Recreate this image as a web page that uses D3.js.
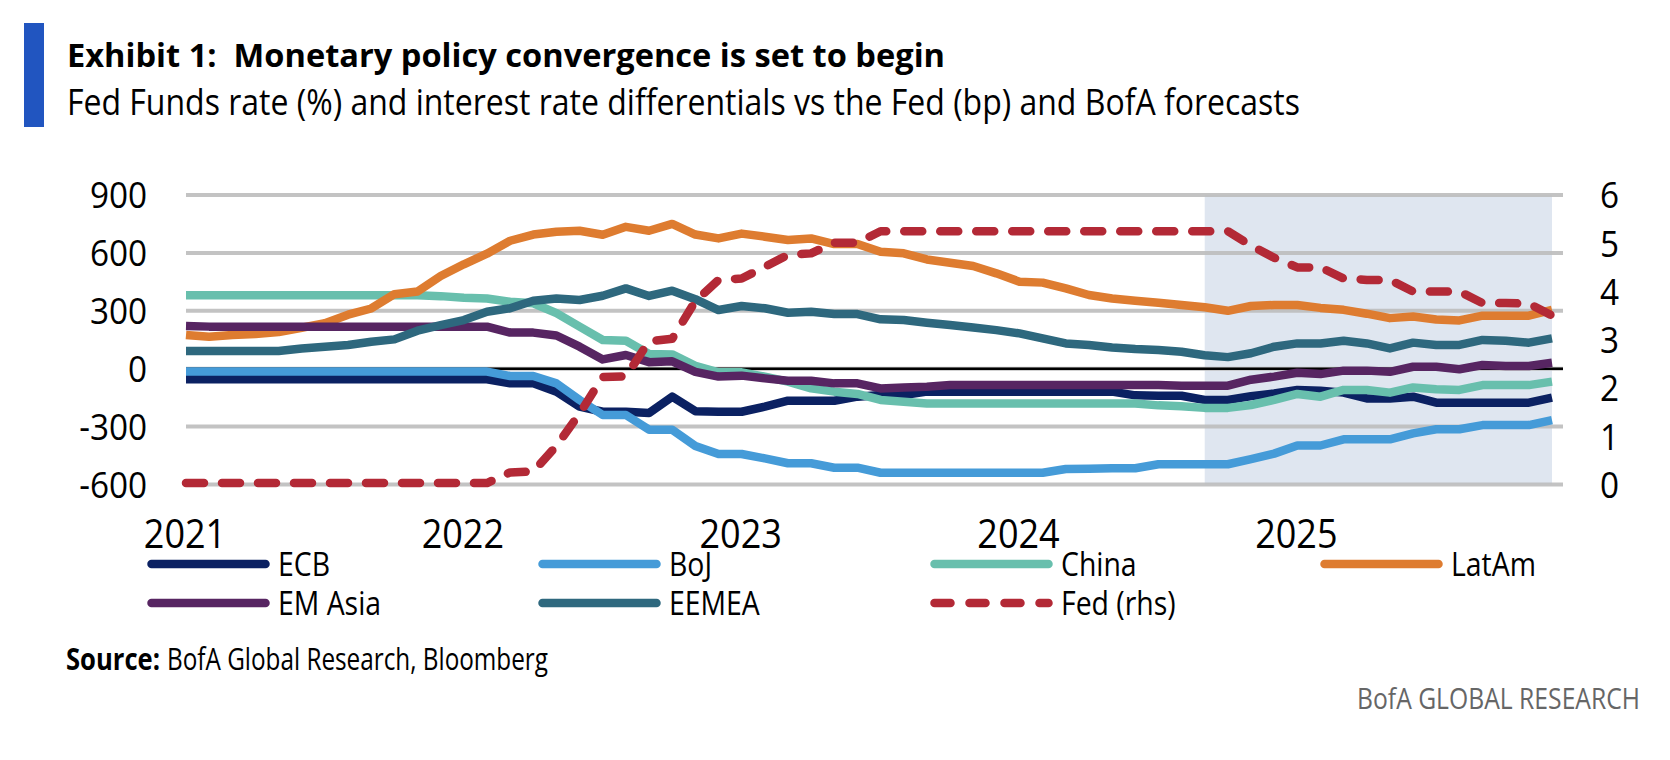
<!DOCTYPE html>
<html>
<head>
<meta charset="utf-8">
<script src="https://cdn.jsdelivr.net/npm/d3@7"></script>
<style>
  body { margin: 0; background: #fff; }
  text { font-family: "Open Sans", sans-serif; white-space: pre; }
</style>
</head>
<body>
<svg id="chart" width="1670" height="760"></svg>
<script>
// monthly, Jan 2021 .. Dec 2025 (index 0..59)
const yearLabels = ["2021", "2022", "2023", "2024", "2025"];
const yearIndex = [0, 12, 24, 36, 48];
const forecastStart = 44; // Sep 2024

const ecb = [-55, -55, -55, -55, -55, -55, -55, -55, -55, -55, -55, -55, -55, -55,
  -76, -76, -119, -197, -223, -223, -230, -145, -220, -223, -223, -197, -166, -166, -166, -145,
  -136, -136, -119, -119, -119, -119, -119, -119, -119, -119, -119, -138, -140, -140, -162,
  -162, -142, -128, -110, -114, -124, -154, -154, -145, -176, -176, -176, -176, -176, -150];
const boj = [-15, -15, -15, -15, -15, -15, -15, -15, -15, -15, -15, -15, -15, -15,
  -38, -38, -76, -162, -240, -240, -316, -316, -400, -442, -442, -465, -490, -490, -513, -513,
  -539, -539, -539, -539, -539, -539, -539, -539, -520, -518, -516, -516, -495, -495, -495,
  -495, -468, -440, -398, -398, -366, -366, -366, -335, -314, -314, -292, -292, -292, -266];
const china = [380, 380, 380, 380, 380, 380, 380, 380, 380, 380, 380, 376, 368, 364,
  347, 339, 288, 218, 149, 145, 76, 74, 15, -19, -19, -41, -67, -102, -119, -131,
  -162, -171, -180, -180, -180, -180, -180, -180, -180, -180, -180, -180, -190, -195, -203,
  -203, -188, -162, -131, -145, -110, -110, -124, -97, -107, -110, -85, -85, -85, -67];
const latam = [175, 165, 175, 180, 190, 212, 236, 280, 312, 386, 400, 480, 541, 596,
  663, 695, 710, 715, 694, 735, 715, 750, 695, 675, 700, 684, 667, 675, 646, 646,
  606, 598, 566, 549, 532, 494, 451, 446, 416, 382, 364, 352, 342, 330, 318,
  300, 325, 330, 330, 315, 305, 285, 262, 270, 255, 250, 275, 275, 275, 305];
const emAsia = [221, 218, 218, 218, 218, 218, 218, 218, 218, 218, 218, 218, 218, 218,
  187, 187, 172, 114, 48, 71, 34, 38, -16, -41, -36, -50, -62, -62, -76, -76,
  -102, -98, -93, -85, -85, -85, -85, -85, -85, -85, -85, -85, -85, -88, -88,
  -88, -57, -41, -21, -28, -10, -10, -16, 10, 10, -3, 19, 14, 14, 31];
const eemea = [92, 92, 92, 92, 92, 105, 114, 123, 140, 152, 197, 226, 252, 295,
  313, 352, 364, 356, 378, 416, 377, 404, 360, 304, 325, 313, 290, 295, 283, 283,
  256, 252, 238, 226, 214, 200, 183, 157, 131, 123, 110, 102, 97, 88, 70,
  60, 80, 114, 131, 131, 145, 131, 105, 135, 123, 123, 149, 145, 135, 157];
const fed = [0.03, 0.03, 0.03, 0.03, 0.03, 0.03, 0.03, 0.03, 0.03, 0.03, 0.03, 0.03, 0.03, 0.03,
  0.25, 0.27, 0.8, 1.47, 2.23, 2.24, 2.97, 3.02, 3.8, 4.24, 4.27, 4.51, 4.76, 4.79, 5.01, 5.01,
  5.25, 5.25, 5.25, 5.25, 5.25, 5.25, 5.25, 5.25, 5.25, 5.25, 5.25, 5.25, 5.25, 5.25, 5.25,
  5.25, 4.95, 4.7, 4.5, 4.5, 4.27, 4.24, 4.24, 4.0, 4.0, 4.0, 3.76, 3.76, 3.75, 3.5];

const leftTicks = [-600, -300, 0, 300, 600, 900];
const rightTicks = [0, 1, 2, 3, 4, 5, 6];

const series = [
  { name: "ECB", values: ecb, color: "#0b2162" },
  { name: "BoJ", values: boj, color: "#459bd8" },
  { name: "China", values: china, color: "#68bfad" },
  { name: "LatAm", values: latam, color: "#de7c30" },
  { name: "EM Asia", values: emAsia, color: "#572562" },
  { name: "EEMEA", values: eemea, color: "#2e687e" },
  { name: "Fed (rhs)", values: fed, color: "#b32936", dashed: true, rhs: true }
];

const svg = d3.select("#chart");
const plot = { left: 186, right: 1563, top: 195, bottom: 484.5 };

const x = d3.scaleLinear().domain([0, 59]).range([plot.left, 1552]);
const y = d3.scaleLinear().domain([-600, 900]).range([plot.bottom, plot.top]);
const y2 = d3.scaleLinear().domain([0, 6]).range([plot.bottom, plot.top]);

// squeeze text horizontally to mimic the condensed house font
function condense(sel, k) {
  sel.each(function () {
    const n = this.getComputedTextLength();
    d3.select(this).attr("textLength", n * k).attr("lengthAdjust", "spacingAndGlyphs");
  });
}
function fitWidth(sel, w) {
  sel.attr("textLength", w).attr("lengthAdjust", "spacingAndGlyphs");
}

// header
svg.append("rect").attr("x", 24).attr("y", 23).attr("width", 20).attr("height", 104).attr("fill", "#2155c0");
svg.append("text").attr("x", 67).attr("y", 67).attr("font-size", 32).attr("font-weight", 700)
  .text("Exhibit 1:  Monetary policy convergence is set to begin").call(fitWidth, 878);
svg.append("text").attr("x", 67).attr("y", 115).attr("font-size", 36)
  .text("Fed Funds rate (%) and interest rate differentials vs the Fed (bp) and BofA forecasts").call(fitWidth, 1233);

// forecast shading
svg.append("rect")
  .attr("x", x(forecastStart)).attr("y", plot.top)
  .attr("width", x(59) - x(forecastStart)).attr("height", plot.bottom - plot.top)
  .attr("fill", "#dfe6f0");

// gridlines
svg.append("g").selectAll("line").data(leftTicks).join("line")
  .attr("x1", plot.left).attr("x2", plot.right)
  .attr("y1", d => y(d)).attr("y2", d => y(d))
  .attr("stroke", "#bdbdbd").attr("stroke-opacity", 0.9).attr("stroke-width", 4);
svg.append("line")
  .attr("x1", plot.left).attr("x2", plot.right).attr("y1", y(0)).attr("y2", y(0))
  .attr("stroke", "#000").attr("stroke-width", 2.5);

// axes
const gLeft = svg.append("g").attr("transform", `translate(${plot.left - 39},0)`)
  .call(d3.axisLeft(y).tickValues(leftTicks).tickSize(0).tickPadding(0).tickFormat(d => String(d)));
const gRight = svg.append("g").attr("transform", `translate(1600,0)`)
  .call(d3.axisRight(y2).tickValues(rightTicks).tickSize(0).tickPadding(0).tickFormat(d => String(d)));
const gBottom = svg.append("g").attr("transform", `translate(-1.5,0)`)
  .call(d3.axisBottom(x).tickValues(yearIndex).tickSize(0).tickFormat((d, i) => yearLabels[i]));
[gLeft, gRight, gBottom].forEach(g => {
  g.select(".domain").remove();
  g.selectAll("text").attr("font-family", "Open Sans, sans-serif").attr("fill", "#000");
});
gLeft.selectAll("text").attr("font-size", 37).attr("dy", "0.35em");
gRight.selectAll("text").attr("font-size", 37).attr("dy", "0.35em");
gBottom.selectAll("text").attr("font-size", 40).attr("y", 548).attr("dy", null);
gLeft.selectAll("text").call(condense, 0.9);
gRight.selectAll("text").call(condense, 0.9);
gBottom.selectAll("text").call(condense, 0.9);

// lines
series.forEach(s => {
  const yy = s.rhs ? y2 : y;
  const line = d3.line().x((d, i) => x(i)).y(d => yy(d));
  svg.append("path")
    .datum(s.values)
    .attr("d", line)
    .attr("fill", "none")
    .attr("stroke", s.color)
    .attr("stroke-width", 8.5)
    .attr("stroke-linejoin", "round")
    .attr("stroke-linecap", s.dashed ? "round" : "butt")
    .attr("stroke-dasharray", s.dashed ? "18,18" : null);
});

// legend
const legX = [147, 538, 930, 1320];
const legY = [564, 603];
series.forEach((s, i) => {
  const cx = legX[i % 4], cy = legY[Math.floor(i / 4)];
  const g = svg.append("g");
  g.append("line")
    .attr("x1", cx + 4.5).attr("x2", cx + 118.5).attr("y1", cy).attr("y2", cy)
    .attr("stroke", s.color).attr("stroke-width", 8.5).attr("stroke-linecap", "round")
    .attr("stroke-dasharray", s.dashed ? "16,19" : null);
  g.append("text").attr("x", cx + 131).attr("y", cy + 12).attr("font-size", 33)
    .text(s.name).call(condense, 0.86);
});

// footer
svg.append("text").attr("x", 66).attr("y", 670).attr("font-size", 31).attr("font-weight", 700)
  .text("Source:").call(fitWidth, 94);
svg.append("text").attr("x", 167).attr("y", 670).attr("font-size", 31)
  .text("BofA Global Research, Bloomberg").call(fitWidth, 381);
svg.append("text").attr("x", 1357).attr("y", 709).attr("font-size", 29).attr("fill", "#666")
  .text("BofA GLOBAL RESEARCH").call(fitWidth, 283);
</script>
</body>
</html>
